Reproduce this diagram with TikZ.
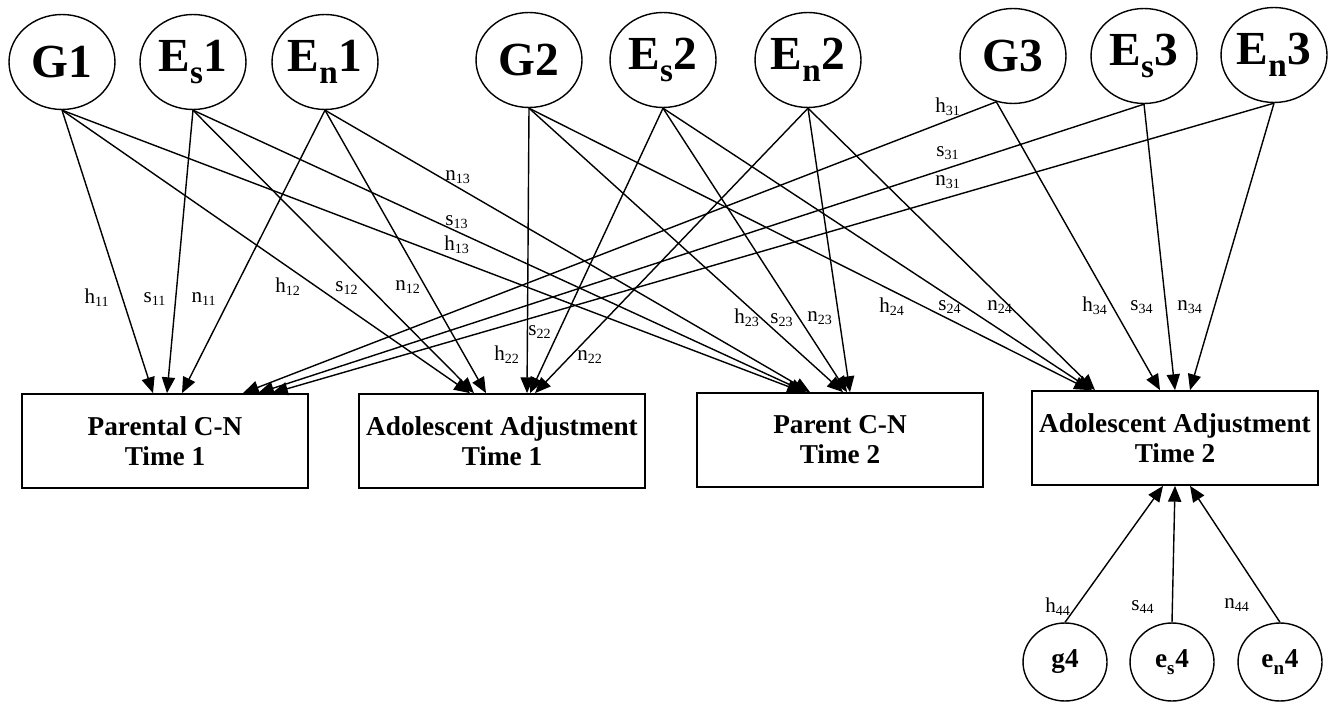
\documentclass[tikz,border=0pt]{standalone}
\usepackage{fontspec}
\setmainfont{Liberation Serif}
\usetikzlibrary{arrows.meta,calc,shapes.geometric}
\newcommand{\lowsub}[1]{\raisebox{-0.25ex}{\textsubscript{#1}}}
\tikzset{
	latent/.style={draw, ellipse, line width=0.8pt, inner sep=0pt, minimum width=2.12cm, minimum height=1.9cm, font=\fontsize{27}{30}\selectfont\bfseries},
	error/.style={draw, ellipse, line width=0.8pt, inner sep=0pt, minimum width=1.68cm, minimum height=1.56cm, font=\fontsize{15.5}{18}\selectfont\bfseries},
	measure/.style={draw, rectangle, line width=1pt, minimum width=5.72cm, minimum height=1.88cm, align=center, font=\fontsize{15.5}{17}\selectfont\bfseries},
	link/.style={-{Triangle[length=9pt,width=7.5pt]}, line width=0.8pt},
	coef/.style={font=\fontsize{12}{14}\selectfont, inner sep=0pt}
}

\begin{document}
\begin{tikzpicture}[x=0.02cm, y=-0.02cm]
		%%%%% START %%%%%
		\useasboundingbox (0, 0) rectangle (1331, 702);
		
		\node[latent] (G1) at (62, 62) {G1};
		\node[latent] (Es1) at (193, 62) {E\lowsub{s}1};
		\node[latent] (En1) at (325, 62) {E\lowsub{n}1};
		\node[latent] (G2) at (529, 60) {G2};
		\node[latent] (Es2) at (663, 60) {E\lowsub{s}2};
		\node[latent] (En2) at (808, 60) {E\lowsub{n}2};
		\node[latent] (G3) at (1013, 56) {G3};
		\node[latent] (Es3) at (1144, 56) {E\lowsub{s}3};
		\node[latent] (En3) at (1274, 55) {E\lowsub{n}3};
		
		\node[measure] (pcn1) at (165, 441) {Parental C-N\\Time 1};
		\node[measure] (adj1) at (502, 441) {Adolescent Adjustment\\Time 1};
		\node[measure] (pcn2) at (840, 440) {Parent C-N\\Time 2};
		\node[measure] (adj2) at (1175, 438) {Adolescent Adjustment\\Time 2};
		
		\node[error] (g4) at (1065, 662) {g4};
		\node[error] (es4) at (1172, 662) {e\lowsub{s}4};
		\node[error] (en4) at (1280, 662) {e\lowsub{n}4};
		
		% time 1
		\draw[link] (G1.south) -- ($(pcn1.north)+(-12, 0)$);
		\draw[link] (G1.south) -- ($(adj1.north)+(-32, 0)$);
		\draw[link] (G1.south) -- ($(pcn2.north)+(-37, 0)$);
		\draw[link] (Es1.south) -- ($(pcn1.north)+(2, 0)$);
		\draw[link] (Es1.south) -- ($(adj1.north)+(-28, 0)$);
		\draw[link] (Es1.south) -- ($(pcn2.north)+(-34, 0)$);
		\draw[link] (En1.south) -- ($(pcn1.north)+(17, 0)$);
		\draw[link] (En1.south) -- ($(adj1.north)+(-16, 0)$);
		\draw[link] (En1.south) -- ($(pcn2.north)+(-30, 0)$);
		
		% time 2
		\draw[link] (G2.south) -- ($(adj1.north)+(25, 0)$);
		\draw[link] (G2.south) -- ($(pcn2.north)+(3, 0)$);
		\draw[link] (G2.south) -- ($(adj2.north)+(-85, 0)$);
		\draw[link] (Es2.south) -- ($(adj1.north)+(28, 0)$);
		\draw[link] (Es2.south) -- ($(pcn2.north)+(7, 0)$);
		\draw[link] (Es2.south) -- ($(adj2.north)+(-83, 0)$);
		\draw[link] (En2.south) -- ($(adj1.north)+(33, 0)$);
		\draw[link] (En2.south) -- ($(pcn2.north)+(10, 0)$);
		\draw[link] (En2.south) -- ($(adj2.north)+(-80, 0)$);
		
		% time 3
		\draw[link] (G3.250) -- ($(pcn1.north)+(78, 0)$);
		\draw[link] (G3.250) -- ($(adj2.north)+(-15, 0)$);
		\draw[link] (Es3.south) -- ($(pcn1.north)+(93, 0)$);
		\draw[link] (Es3.south) -- ($(adj2.north)+(0, 0)$);
		\draw[link] (En3.south) -- ($(pcn1.north)+(107, 0)$);
		\draw[link] (En3.south) -- ($(adj2.north)+(15, 0)$);
		
		% residual
		\draw[link] (g4.north) -- ($(adj2.south)+(-12, 0)$);
		\draw[link] (es4.north) -- ($(adj2.south)+(0, 0)$);
		\draw[link] (en4.north) -- ($(adj2.south)+(15, 0)$);
		
		\node[coef] (h11) at (97, 298) {h\textsubscript{11}};
		\node[coef] (s11) at (155, 299) {s\textsubscript{11}};
		\node[coef] (n11) at (204, 299) {n\textsubscript{11}};
		\node[coef] (h12) at (288, 287) {h\textsubscript{12}};
		\node[coef] (s12) at (347, 288) {s\textsubscript{12}};
		\node[coef] (n12) at (408, 287) {n\textsubscript{12}};
		\node[coef] (n13) at (458, 177) {n\textsubscript{13}};
		\node[coef] (s13) at (457, 222) {s\textsubscript{13}};
		\node[coef] (h13) at (457, 245) {h\textsubscript{13}};
		\node[coef] (s22) at (540, 332) {s\textsubscript{22}};
		\node[coef] (h22) at (507, 355) {h\textsubscript{22}};
		\node[coef] (n22) at (590, 357) {n\textsubscript{22}};
		\node[coef] (h23) at (747, 318) {h\textsubscript{23}};
		\node[coef] (s23) at (782, 320) {s\textsubscript{23}};
		\node[coef] (n23) at (820, 318) {n\textsubscript{23}};
		\node[coef] (h24) at (892, 307) {h\textsubscript{24}};
		\node[coef] (s24) at (950, 307) {s\textsubscript{24}};
		\node[coef] (n24) at (1000, 307) {n\textsubscript{24}};
		\node[coef] (h31) at (948, 107) {h\textsubscript{31}};
		\node[coef] (s31) at (948, 153) {s\textsubscript{31}};
		\node[coef] (n31) at (948, 182) {n\textsubscript{31}};
		\node[coef] (h34) at (1095, 306) {h\textsubscript{34}};
		\node[coef] (s34) at (1142, 307) {s\textsubscript{34}};
		\node[coef] (n34) at (1190, 307) {n\textsubscript{34}};
		\node[coef] (h44) at (1058, 607) {h\textsubscript{44}};
		\node[coef] (s44) at (1143, 607) {s\textsubscript{44}};
		\node[coef] (n44) at (1237, 605) {n\textsubscript{44}};
		%%%%% END %%%%%
\end{tikzpicture}
\end{document}
